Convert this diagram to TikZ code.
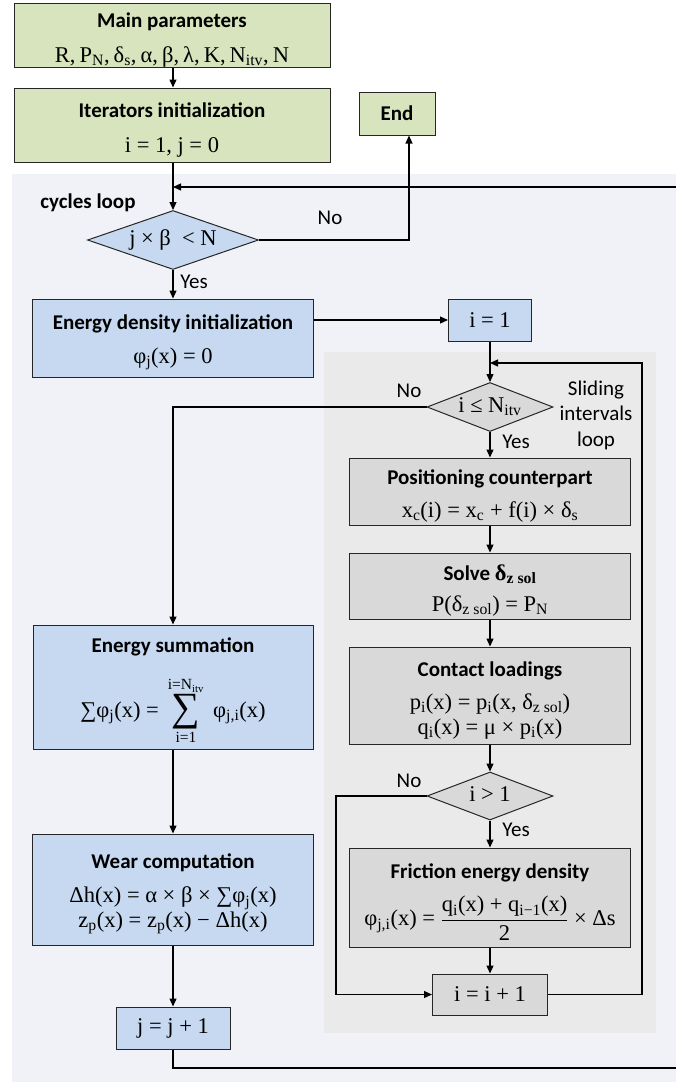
\documentclass[tikz,border=0pt]{standalone}
\usepackage{amsmath}
\usepackage{fontspec}
\setmainfont{Liberation Serif}
\newfontfamily\titlef{Carlito}
\usetikzlibrary{arrows.meta,shapes.geometric}
\definecolor{outerbg}{RGB}{241,242,247}
\definecolor{innerbg}{RGB}{234,234,234}
\definecolor{bgreen}{RGB}{215,228,189}
\definecolor{bblue}{RGB}{198,217,240}
\definecolor{bgray}{RGB}{217,217,217}
\newcommand\sub[1]{\textsubscript{#1}}
\newcommand\ttl[1]{{\titlef\bfseries\fontsize{21}{25}\selectfont\rule{0pt}{24pt}#1}}
\newcommand\sumlim[1]{\mbox{\fontsize{15.5}{15.5}\selectfont #1}}
\newcommand\bigsum{\mathop{\vcenter{\hbox{\fontsize{40}{40}\selectfont ∑}}}\limits}
\newcommand\cs{,\hspace{0.18em}}
\begin{document}
\begin{tikzpicture}[x=1pt,y=-1pt,
  every node/.style={font=\fontsize{22.5}{25}\selectfont},
  proc/.style={draw=black!85, line width=1pt, align=center, inner sep=0pt},
  gbox/.style={proc, fill=bgreen},
  bbox/.style={proc, fill=bblue},
  ybox/.style={proc, fill=bgray},
  dec/.style={draw=black!85, line width=1pt, diamond, inner sep=0pt, aspect=2.7, text height=15pt, text depth=5pt},
  lab/.style={font=\titlef\fontsize{21}{25}\selectfont, inner sep=0pt},
  arr/.style={line width=1.2pt, -{Triangle[length=8pt,width=7pt]}}]
\useasboundingbox (0,0) rectangle (676,1082);
% backgrounds
\fill[outerbg] (12,174) rectangle (720,1110);
\fill[innerbg] (324,352) rectangle (656,1033);
% top
\node[gbox, minimum width=316, minimum height=64] (main) at (172,35)
  {\ttl{Main parameters}\\[10pt] R\cs P\sub{N}\cs δ\sub{s}\cs α\cs β\cs λ\cs K\cs N\sub{itv}\cs N};
\node[gbox, minimum width=316, minimum height=74] (iter) at (172,125)
  {\ttl{Iterators initialization}\\[10pt] i = 1, j = 0};
\node[gbox, minimum width=76, minimum height=43] (end) at (397,113.5) {{\titlef\bfseries\fontsize{21}{25}\selectfont End}};
\node[lab, font=\titlef\bfseries\fontsize{21}{25}\selectfont] (cyc) at (88,203) {cycles loop};
\node[dec, fill=bblue, minimum width=171, minimum height=59] (d1) at (173,240) {j × β \ < N};
% left column
\node[bbox, minimum width=281, minimum height=78] (edi) at (173,338)
  {\ttl{Energy density initialization}\\[9pt] φ\sub{j}(x) = 0};
\node[bbox, minimum width=280, minimum height=124] (esum) at (173,687)
  {\ttl{Energy summation}\\[20pt] $\text{∑φ\sub{j}(x) = }\bigsum_{\sumlim{i=1}}^{\sumlim{i=N\sub{itv}}}\text{ φ\sub{j,i}(x)}$};
\node[bbox, minimum width=281, minimum height=111] (wear) at (173,889.5)
  {\ttl{Wear computation}\\[9pt] Δh(x) = α × β × ∑φ\sub{j}(x)\\ z\sub{p}(x) = z\sub{p}(x) − Δh(x)};
\node[bbox, minimum width=114, minimum height=42] (jj) at (173,1028) {j = j + 1};
% right column
\node[bbox, minimum width=83, minimum height=42] (i1) at (490,320) {i = 1};
\node[dec, fill=bgray, minimum width=126, minimum height=49] (d2) at (490,407) {i ≤ N\sub{itv}};
\node[ybox, minimum width=281, minimum height=67] (pos) at (490,491.5)
  {\ttl{Positioning counterpart}\\[8pt] x\sub{c}(i) = x\sub{c} + f(i) × δ\sub{s}};
\node[ybox, minimum width=281, minimum height=66] (solve) at (490,586)
  {\ttl{Solve }\textbf{δ\sub{z sol}}\\[6pt] P(δ\sub{z sol}) = P\sub{N}};
\node[ybox, minimum width=281, minimum height=97] (cont) at (490,695.5)
  {\ttl{Contact loadings}\\[8pt] p\sub{i}(x) = p\sub{i}(x, δ\sub{z sol})\\ q\sub{i}(x) = μ × p\sub{i}(x)};
\node[dec, fill=bgray, minimum width=126, minimum height=48] (d3) at (490,796) {i > 1};
\node[ybox, minimum width=281, minimum height=99] (fric) at (490,897.5)
  {\ttl{Friction energy density}\\[13pt] $\text{φ\sub{j,i}(x) = }\dfrac{\text{q\sub{i}(x) + q\sub{i−1}(x)}}{\text{2}}\text{ × Δs}$};
\node[ybox, minimum width=115, minimum height=41] (ii) at (490,994.5) {i = i + 1};
% labels
\node[lab] (no1) at (330,218) {No};
\node[lab] (yes1) at (194,282) {Yes};
\node[lab] (no2) at (409,391) {No};
\node[lab] (yes2) at (516,442) {Yes};
\node[lab, align=center, font=\titlef\fontsize{21}{25.5}\selectfont] (slide) at (596,415) {Sliding\\intervals\\loop};
\node[lab] (no3) at (409,781) {No};
\node[lab] (yes3) at (516,830) {Yes};
% coordinates
\coordinate (loopR) at (720,1068);
\coordinate (loopIn) at (173,187);
\coordinate (inR) at (642,363);
\coordinate (inIn) at (490,363);
\coordinate (noL) at (336,796);
% connectors
\draw[arr] (main.south -| d1.north) -- (iter.north -| d1.north);
\draw[arr] (iter.south -| d1.north) -- (d1.north);
\draw[arr] (jj.south) |- (loopR) |- (loopIn);
\draw[arr] (d1.east) -| ([xshift=12pt]end.south);
\draw[arr] (d1) -- (edi);
\draw[arr] (i1.west -| edi.east) -- (i1.west);
\draw[arr] (i1) -- (d2);
\draw[arr] (ii.east) -| (inR) -- (inIn);
\draw[arr] (d2.west) -| (esum.north);
\draw[arr] (d2) -- (pos);
\draw[arr] (pos) -- (solve);
\draw[arr] (solve) -- (cont);
\draw[arr] (cont) -- (d3);
\draw[arr] (d3) -- (fric);
\draw[arr] (fric) -- (ii);
\draw[arr] (d3.west) -- (noL) |- (ii.west);
\draw[arr] (esum) -- (wear);
\draw[arr] (wear) -- (jj);
\end{tikzpicture}
\end{document}
